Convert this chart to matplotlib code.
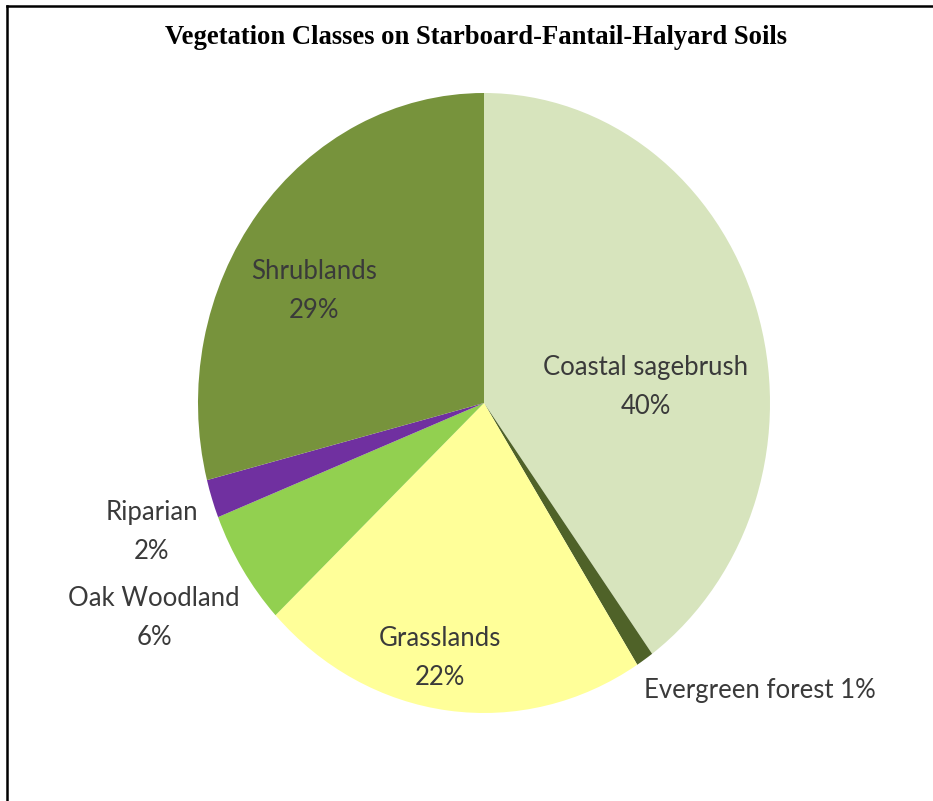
import matplotlib.pyplot as plt
from matplotlib.lines import Line2D

# vegetation classes, clockwise from 12 o'clock
classes = ['Coastal sagebrush', 'Evergreen forest', 'Grasslands',
           'Oak Woodland', 'Riparian', 'Shrublands']
shares = [40, 1, 22, 6, 2, 29]
colors = ['#D7E4BD', '#4F6228', '#FFFF99', '#92D050', '#7030A0', '#77933C']

fig = plt.figure(figsize=(9.33, 8.01), dpi=100)
ax = fig.add_axes([198 / 933, 88 / 801, 572 / 933, 620 / 801])

ax.pie(shares, colors=colors, startangle=90, counterclock=False,
       wedgeprops=dict(linewidth=0))
ax.set_aspect('auto')
ax.set_xlim(-1, 1)
ax.set_ylim(-1, 1)
ax.axis('off')

# label spots (data coords of the stretched pie)
spots = [(0.566, 0.052), (0.965, -0.926), (-0.154, -0.823),
         (-1.154, -0.694), (-1.161, -0.416), (-0.594, 0.361)]
for name, val, (x, y) in zip(classes, shares, spots):
    if name == 'Evergreen forest':
        txt = f'{name} {val}%'
    else:
        txt = f'{name}\n{val}%'
    ax.text(x, y, txt, ha='center', va='center', family='Lato',
            fontsize=18.5, color='#3a3a3a', linespacing=1.68, clip_on=False)

fig.text(476 / 933, 1 - 37 / 801,
         'Vegetation Classes on Starboard-Fantail-Halyard Soils',
         ha='center', va='center', family='Liberation Serif',
         fontweight='bold', fontsize=19.2, color='black')

# frame (only left and top edges show)
fig.add_artist(Line2D([7 / 933, 7 / 933], [0, 1 - 6 / 801],
                      transform=fig.transFigure, color='black', lw=1.8))
fig.add_artist(Line2D([7 / 933, 1], [1 - 6 / 801, 1 - 6 / 801],
                      transform=fig.transFigure, color='black', lw=1.8))

fig.savefig('out.png', dpi=100)
